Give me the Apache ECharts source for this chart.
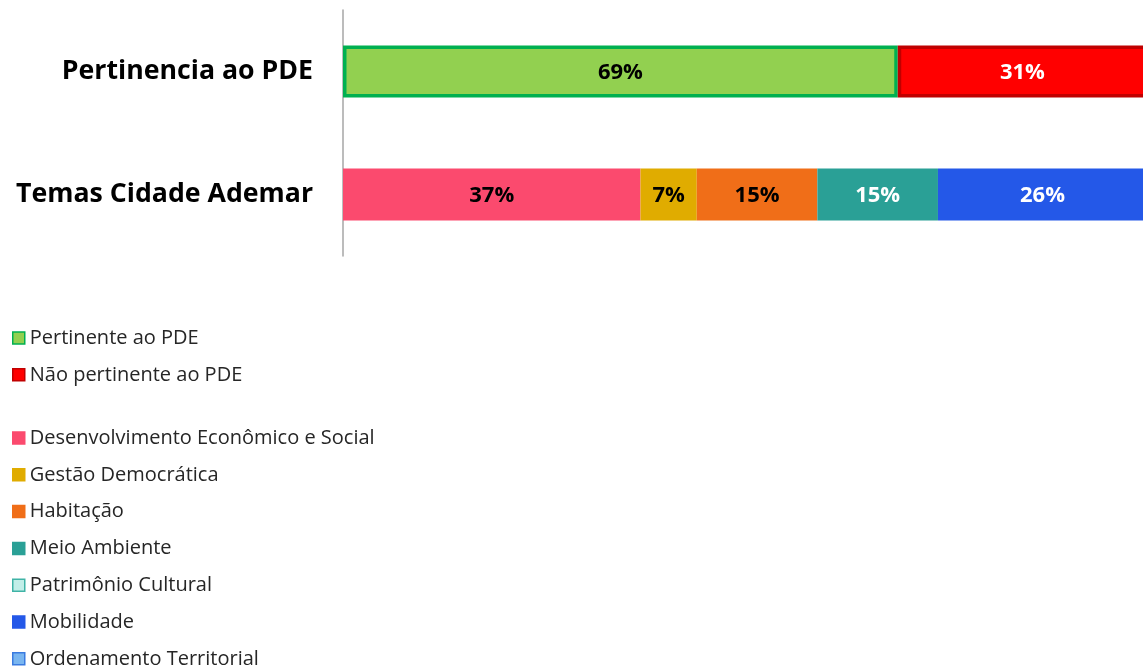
<!DOCTYPE html>
<html>
<head>
<meta charset="utf-8">
<script src="https://cdn.jsdelivr.net/npm/echarts@6/dist/echarts.min.js"></script>
<style>html,body{margin:0;padding:0;background:#fff;overflow:hidden;}#c{width:1147px;height:666px;}</style>
</head>
<body>
<div id="c"></div>
<script>
var categories = ['Pertinencia ao PDE', 'Temas Cidade Ademar'];
var pertinenceNames = ['Pertinente ao PDE', 'Não pertinente ao PDE'];
var pertinenceValues = [69, 31];
var themeNames = ['Desenvolvimento Econômico e Social', 'Gestão Democrática', 'Habitação', 'Meio Ambiente', 'Patrimônio Cultural', 'Mobilidade', 'Ordenamento Territorial'];
var themeValues = [37, 7, 15, 15, 0, 26, 0];

var pertStyles = [
  {color: '#92D050', borderColor: '#00B050', borderWidth: 3.5, label: '#000000', legendBorder: '#00B050'},
  {color: '#FF0000', borderColor: '#C00000', borderWidth: 3.5, label: '#FFFFFF', legendBorder: '#C00000'}
];
var themeStyles = [
  {color: '#FB4A6E', label: '#000000', legendBorder: '#FB4A6E'},
  {color: '#E0AC00', label: '#000000', legendBorder: '#E0AC00'},
  {color: '#F06E18', label: '#000000', legendBorder: '#F06E18'},
  {color: '#2AA096', label: '#FFFFFF', legendBorder: '#2AA096'},
  {color: '#C2EEE8', label: '#000000', legendBorder: '#3FB3A6'},
  {color: '#2458E8', label: '#FFFFFF', legendBorder: '#2458E8'},
  {color: '#7AB6F0', label: '#000000', legendBorder: '#3A7BE0'}
];

var series = [];
function addSeries(name, value, catIndex, st) {
  var data = categories.map(function (c, i) { return i === catIndex ? value : '-'; });
  series.push({
    name: name,
    type: 'bar',
    stack: 'total',
    barWidth: 52,
    data: data,
    itemStyle: {color: st.color, borderColor: st.borderColor || st.color, borderWidth: st.borderWidth || 0},
    label: {
      show: true,
      position: 'inside',
      color: st.label,
      fontFamily: 'Open Sans',
      fontWeight: 'bold',
      fontSize: 22,
      offset: [0, 1],
      formatter: function (p) { return p.value > 0 ? p.value + '%' : ''; }
    },
    emphasis: {disabled: true}
  });
}
pertinenceNames.forEach(function (n, i) { addSeries(n, pertinenceValues[i], 0, pertStyles[i]); });
themeNames.forEach(function (n, i) { addSeries(n, themeValues[i], 1, themeStyles[i]); });

function legendData(names, styles) {
  return names.map(function (n, i) {
    return {name: n, itemStyle: {color: styles[i].color, borderColor: styles[i].legendBorder, borderWidth: 1.5}};
  });
}
var legendText = {fontFamily: 'Open Sans', fontSize: 20, color: '#262626', lineHeight: 22};

var chart = echarts.init(document.getElementById('c'), null, {renderer: 'canvas'});
chart.setOption({
  animation: false,
  backgroundColor: '#ffffff',
  grid: {left: 343, right: 0, top: 10, bottom: 410, containLabel: false},
  xAxis: {type: 'value', min: 0, max: 100, show: false},
  yAxis: {
    type: 'category',
    data: categories,
    inverse: true,
    axisLine: {show: true, lineStyle: {color: '#A6A6A6', width: 1.5}},
    axisTick: {show: false},
    axisLabel: {fontFamily: 'Open Sans', fontWeight: 'bold', fontSize: 26.7, color: '#000000', margin: 30}
  },
  legend: [
    {orient: 'vertical', left: 12, top: 327, height: 200, padding: 0, itemWidth: 12, itemHeight: 12, itemGap: 14.8, icon: 'rect',
     data: legendData(pertinenceNames, pertStyles), textStyle: legendText, selectedMode: false},
    {orient: 'vertical', left: 12, top: 427, height: 400, padding: 0, itemWidth: 12, itemHeight: 12, itemGap: 14.8, icon: 'rect',
     data: legendData(themeNames, themeStyles), textStyle: legendText, selectedMode: false}
  ],
  series: series
});
</script>
</body>
</html>
